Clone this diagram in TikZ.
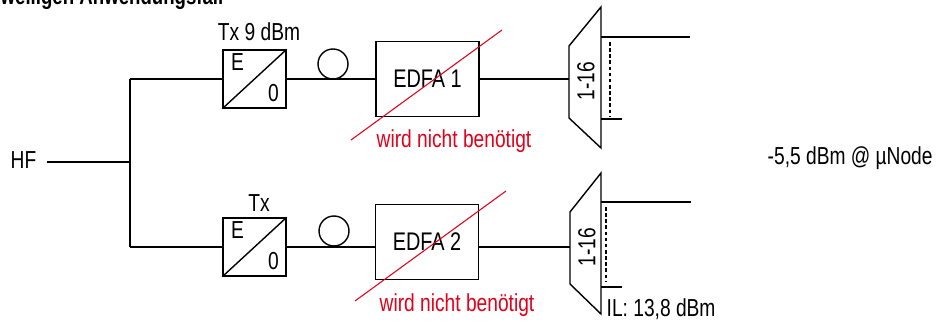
\documentclass[tikz,border=0pt]{standalone}
\usepackage{fontspec}
\setmainfont[FakeStretch=0.78]{Liberation Sans}
\definecolor{strike}{HTML}{E2001A}
\tikzset{
  eo/.style={draw, minimum width=1.26cm, minimum height=1.16cm, inner sep=0pt},
  amp/.style={draw, minimum width=2.06cm, minimum height=1.5cm, font=\fontsize{14.5}{17}\selectfont},
  spool/.style={draw, circle, minimum size=0.6cm, inner sep=0pt},
  txt/.style={inner sep=0pt},
  note/.style={text=strike, inner sep=0pt, anchor=base},
  cross/.style={strike, line width=0.6pt},
  fan/.style={line width=0.6pt, dash pattern=on 2pt off 1.5pt},
}

\begin{document}
\begin{tikzpicture}[x=0.02cm, y=-0.02cm, line width=0.8pt, font=\fontsize{14}{17}\selectfont]
  \useasboundingbox (0,0) rectangle (950,323);
  \clip (0,0) rectangle (950,323);
  \node[txt, anchor=base west, font=\fontsize{13.6}{16}\selectfont\bfseries] (title) at (0,5) {weiligen Anwendungsfall};
  \node[anchor=base west, inner xsep=0.2cm, inner ysep=0pt] (hf) at (0,169) {HF};
  \coordinate (split) at (130,162);
  \coordinate (up) at (130,79);
  \coordinate (down) at (130,247);
  \draw (hf.east |- split) -- (split);
  \draw (up) -- (down);
  % oberer Zweig
  \node[eo] (eo1) at (254.5,79) {};
  \node[txt] (e1) at ([shift={(-17,-17)}]eo1) {E};
  \node[txt] (o1) at ([shift={(19,14)}]eo1) {0};
  \node[txt] (tx1) at (259,32) {Tx 9 dBm};
  \node[spool] (sp1) at (333,64) {};
  \node[amp] (edfa1) at (427.5,79) {EDFA 1};
  \coordinate (dm1) at (569,79);
  \draw (up) -- (eo1.west);
  \draw (eo1.south west) -- (eo1.north east);
  \draw (eo1.east) -- (edfa1.west);
  \draw (edfa1.east) -- (dm1);
  \draw (569,46) -- (601,7) -- (601,148) -- (569,118) -- cycle;
  \node[txt, rotate=90] (ch1) at (586,81) {1-16};
  \draw (601,37) -- (690,37);
  \draw[fan] (610,42) -- (610,117);
  \draw (601,119) -- (622,119);
  \draw[cross] (351,140) -- (502,30);
  \node[note] (n1) at (454,148) {wird nicht benötigt};
  % unterer Zweig
  \node[eo] (eo2) at (254.5,247) {};
  \node[txt] (e2) at ([shift={(-17,-17)}]eo2) {E};
  \node[txt] (o2) at ([shift={(19,14)}]eo2) {0};
  \node[txt] (tx2) at (259,203) {Tx};
  \node[spool] (sp2) at (334,231) {};
  \node[amp] (edfa2) at (427,242) {EDFA 2};
  \coordinate (dm2) at (570,247);
  \draw (down) -- (eo2.west);
  \draw (eo2.south west) -- (eo2.north east);
  \draw (eo2.east) -- (eo2.east -| edfa2.west);
  \draw (edfa2.east |- dm2) -- (dm2);
  \draw (570,212) -- (601,173) -- (601,314) -- (570,284) -- cycle;
  \node[txt, rotate=90] (ch2) at (587,247) {1-16};
  \draw (601,202) -- (691,202);
  \draw[fan] (606,207) -- (606,282);
  \draw (601,287) -- (622,287);
  \draw[cross] (355,301) -- (506,191);
  \node[note] (n2) at (457,312) {wird nicht benötigt};
  \node[txt, anchor=base west] (il) at (606,317) {IL: 13,8 dBm};
  \node[txt, anchor=base west] (pwr) at (767,165) {-5,5 dBm @ µNode};
\end{tikzpicture}
\end{document}
